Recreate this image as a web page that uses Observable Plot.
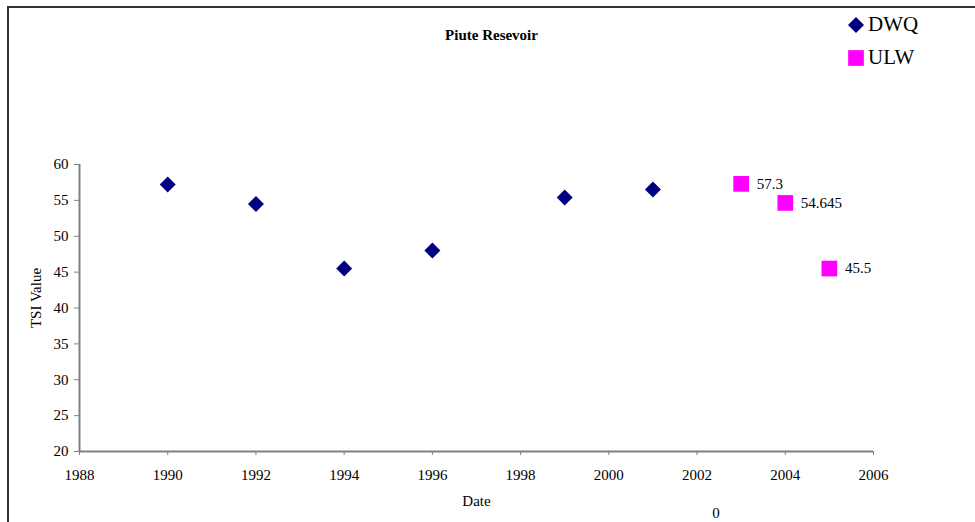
<!DOCTYPE html>
<html>
<head>
<meta charset="utf-8">
<script src="https://cdn.jsdelivr.net/npm/d3@7"></script>
<script src="https://cdn.jsdelivr.net/npm/@observablehq/plot@0.6"></script>
<style>
  html, body { margin: 0; padding: 0; background: #fff; overflow: hidden; }
  body { width: 975px; height: 522px; position: relative; font-family: "Liberation Serif", "Times New Roman", serif; }
  #border { position: absolute; left: 7px; top: 6px; width: 1100px; height: 700px; border: 2px solid #333; box-sizing: border-box; }
  #chart { position: absolute; left: 0; top: 0; }
  #chart svg, #chart svg text { font-family: "Liberation Serif", "Times New Roman", serif !important; font-variant-numeric: normal !important; }
  #legend { position: absolute; left: 846px; top: 10px; font-size: 21px; color: #000; }
  #legend .item { position: absolute; left: 0; white-space: nowrap; height: 30px; }
  #legend svg { position: absolute; left: 0; top: 0; }
  #legend span { position: absolute; left: 22px; }
</style>
</head>
<body>
<div id="border"></div>
<div id="chart"></div>
<div id="legend"></div>
<script>
// Trophic State Index readings for Piute Reservoir
const dwqYears = [1990, 1992, 1994, 1996, 1999, 2001];
const dwqValues = [57.2, 54.5, 45.5, 48.0, 55.4, 56.5];
const ulwYears = [2003, 2004, 2005];
const ulwValues = [57.3, 54.645, 45.5];

const seriesNames = ["DWQ", "ULW"];
const seriesColors = ["#000080", "#FF00FF"];
const seriesSymbols = ["diamond2", "square"];

const xTicks = [1988, 1990, 1992, 1994, 1996, 1998, 2000, 2002, 2004, 2006];
const yTicks = [20, 25, 30, 35, 40, 45, 50, 55, 60];

const titleText = "Piute Resevoir";
const xLabel = "Date";
const yLabel = "TSI Value";
const strayLabel = "0";

const dwq = dwqYears.map((year, i) => ({year, value: dwqValues[i]}));
const ulw = ulwYears.map((year, i) => ({year, value: ulwValues[i]}));

const font = "Liberation Serif";
const axisGray = "#808080";

const chart = Plot.plot({
  width: 975,
  height: 522,
  marginLeft: 79,
  marginRight: 102,
  marginTop: 164,
  marginBottom: 71,
  style: {fontFamily: font, fontSize: "15px", background: "transparent", color: "#000"},
  x: {domain: [1988, 2006]},
  y: {domain: [20, 60]},
  marks: [
    Plot.axisY({ticks: yTicks, tickSize: 5, tickPadding: 6, stroke: axisGray, fill: "#000", fontSize: 15, fontFamily: font, label: null, tickFormat: d => String(d)}),
    Plot.axisX({ticks: xTicks, tickSize: 4, tickPadding: 14, stroke: axisGray, fill: "#000", fontSize: 15, fontFamily: font, label: null, tickFormat: d => String(d)}),
    Plot.ruleX([1988], {stroke: axisGray, strokeWidth: 2}),
    Plot.ruleY([20], {stroke: axisGray, strokeWidth: 2}),
    Plot.dot(dwq, {x: "year", y: "value", symbol: seriesSymbols[0], r: 7.2, fill: seriesColors[0], stroke: "none"}),
    Plot.dot(ulw, {x: "year", y: "value", symbol: seriesSymbols[1], r: 8.85, fill: seriesColors[1], stroke: "none"}),
    Plot.text(ulw, {x: "year", y: "value", text: d => String(d.value), dx: 15.5, textAnchor: "start", lineAnchor: "middle", fontSize: 15, fontFamily: font, fill: "#000"}),
    Plot.text([titleText], {frameAnchor: "top", dx: 15, dy: -129.5, textAnchor: "middle", lineAnchor: "middle", fontSize: 15, fontFamily: font, fontWeight: "bold", fill: "#000"}),
    Plot.text([xLabel], {frameAnchor: "bottom", dy: 50, textAnchor: "middle", lineAnchor: "middle", fontSize: 15, fontFamily: font, fill: "#000"}),
    Plot.text([yLabel], {frameAnchor: "left", dx: -43, dy: -10, rotate: -90, textAnchor: "middle", lineAnchor: "middle", fontSize: 15, fontFamily: font, fill: "#000"}),
    Plot.text([strayLabel], {frameAnchor: "bottom", dx: 239.5, dy: 61.5, textAnchor: "middle", lineAnchor: "middle", fontSize: 15, fontFamily: font, fill: "#000"})
  ]
});
document.getElementById("chart").appendChild(chart);

// Legend: one row per series, symbol followed by name
const legend = d3.select("#legend");
const symbolFor = {diamond2: d3.symbolDiamond2, square: d3.symbolSquare};
const symbolSize = {diamond2: Math.PI * 7.2 * 7.2, square: Math.PI * 8.85 * 8.85};
seriesNames.forEach((name, i) => {
  const item = legend.append("div").attr("class", "item").style("top", (i * 32.5) + "px");
  item.append("svg").attr("width", 20).attr("height", 30)
    .append("path")
    .attr("transform", "translate(10,15)")
    .attr("d", d3.symbol(symbolFor[seriesSymbols[i]], symbolSize[seriesSymbols[i]])())
    .attr("fill", seriesColors[i]);
  item.append("span").style("top", "2px").text(name);
});
</script>
</body>
</html>
